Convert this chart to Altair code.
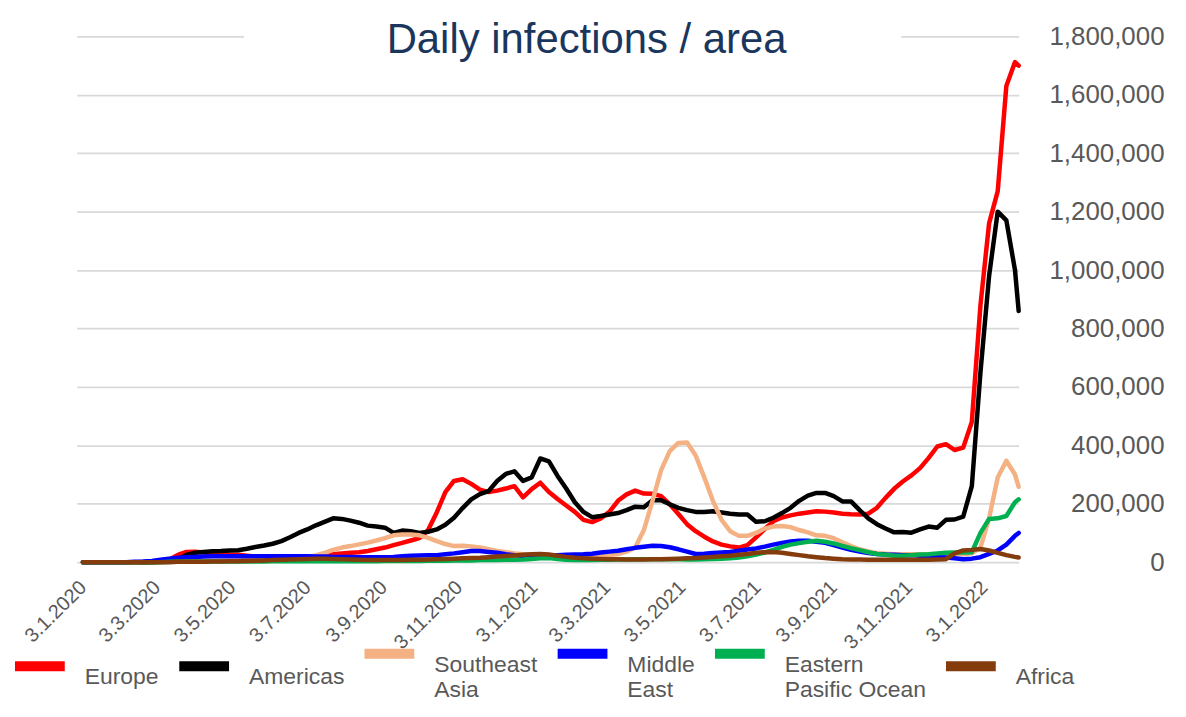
import altair as alt
import pandas as pd

# weekly dates from 3.1.2020, plus the last day shown
dates = list(pd.date_range("2020-01-03", periods=109, freq="7D").strftime("%Y-%m-%dT00:00:00")) + ["2022-01-31T00:00:00"]

series_names = ["Europe", "Americas", "Southeast Asia", "Middle East", "Eastern Pasific Ocean", "Africa"]
series_colors = ["#FF0000", "#000000", "#F4B183", "#0000FF", "#00B050", "#843C0C"]

# daily infections, thousands
europe = [0,0,0,0,0,0,0,0,1,3,
          8,25,35,36,33,30,28,26,25,22,
          19,16,15,15,15,15,16,18,22,27,
          30,32,34,38,44,50,58,66,74,82,
          110,170,240,278,284,268,248,240,245,252,
          260,222,250,272,240,216,194,172,145,137,
          150,172,210,232,245,235,234,226,198,165,
          130,106,87,71,60,54,50,58,85,113,
          140,153,160,166,170,174,173,170,166,164,
          163,166,186,220,251,276,297,322,357,396,
          404,384,392,480,880,1160,1270,1630,1712,1700]
americas = [0,0,0,0,0,0,0,0,0,1,
            2,8,25,32,35,37,38,40,41,46,
            52,57,63,72,85,100,112,126,138,150,
            148,142,135,125,122,118,100,108,106,100,
            104,112,128,152,185,215,233,243,278,302,
            311,278,290,355,345,295,252,205,172,154,
            158,163,168,178,190,188,212,212,198,186,
            178,172,172,174,170,166,163,163,138,140,
            152,168,186,210,228,237,237,226,208,208,
            178,150,130,115,102,103,101,112,122,118,
            145,146,156,260,650,980,1200,1170,1000,860]
southeast_asia = [0,0,0,0,0,0,0,1,1,2,
                  2,3,3,3,4,4,5,5,6,7,
                  8,9,10,11,13,16,19,23,32,42,
                  50,55,61,67,74,82,92,95,95,92,
                  83,72,62,55,56,54,50,44,38,34,
                  30,27,25,23,22,21,20,19,18,18,
                  20,24,28,36,50,110,210,315,380,408,
                  410,365,290,210,145,106,90,90,100,115,
                  122,124,120,110,102,92,90,82,68,55,
                  44,37,31,29,27,27,27,27,27,27,
                  27,27,27,30,50,150,290,347,300,258]
middle_east = [0,0,0,0,0,0,1,2,4,8,
               12,15,17,18,19,20,20,20,20,20,
               20,20,20,20,20,20,20,19,19,18,
               18,18,17,17,17,17,18,20,22,23,
               24,24,27,30,34,38,38,35,32,27,
               24,21,21,22,23,24,25,26,27,29,
               33,36,39,44,49,53,56,55,51,44,
               36,28,29,31,33,35,39,43,47,53,
               60,66,71,73,73,70,66,58,50,42,
               36,31,28,26,25,24,24,22,20,18,
               16,13,10,12,17,28,40,60,90,100]
eastern_pacific = [0,0,0,0,0,0,0,0,0,0,
                   1,2,2,2,2,2,2,2,2,2,
                   2,2,3,3,3,3,3,3,3,3,
                   3,3,3,3,3,4,4,4,4,4,
                   5,5,5,6,6,6,7,7,7,8,
                   8,9,11,13,14,11,8,7,7,7,
                   8,8,9,9,10,10,10,10,10,10,
                   9,9,10,11,12,13,16,20,26,33,
                   42,52,60,65,70,73,70,64,56,48,
                   41,34,28,25,22,22,24,26,27,30,
                   32,33,33,34,100,148,150,158,205,215]
africa = [0,0,0,0,0,0,0,0,0,0,
          0,1,1,1,1,2,2,3,3,4,
          5,6,7,8,9,10,11,12,12,11,
          10,9,8,7,7,7,7,7,8,8,
          9,10,11,12,13,14,15,17,19,21,
          23,25,27,28,26,22,18,15,13,12,
          11,10,10,9,9,9,10,10,11,12,
          13,14,16,18,20,22,25,28,32,34,
          35,32,28,24,20,17,14,12,10,9,
          9,8,8,8,8,8,8,8,8,9,
          10,30,40,42,45,40,32,24,18,16]

y_ticks = [0, 200000, 400000, 600000, 800000, 1000000, 1200000, 1400000, 1600000, 1800000]
x_ticks = [(2020, 1), (2020, 3), (2020, 5), (2020, 7), (2020, 9), (2020, 11),
           (2021, 1), (2021, 3), (2021, 5), (2021, 7), (2021, 9), (2021, 11), (2022, 1)]
title_text = "Daily infections / area"

all_series = [europe, americas, southeast_asia, middle_east, eastern_pacific, africa]
rows = []
for name, vals in zip(series_names, all_series):
    for d, v in zip(dates, vals):
        rows.append({"date": d, "region": name, "cases": v * 1000})
df = pd.DataFrame(rows)

label_expr = ("datum.label == 'Southeast Asia' ? ['Southeast', 'Asia'] : "
              "datum.label == 'Middle East' ? ['Middle', 'East'] : "
              "datum.label == 'Eastern Pasific Ocean' ? ['Eastern', 'Pasific Ocean'] : datum.label")

lines = alt.Chart(df).mark_line(strokeWidth=4.5, strokeJoin="round", strokeCap="round").encode(
    x=alt.X("date:T",
            scale=alt.Scale(domain=[alt.DateTime(year=2019, month=12, date=29),
                                    alt.DateTime(year=2022, month=1, date=31)]),
            axis=alt.Axis(values=[alt.DateTime(year=y, month=m, date=3) for y, m in x_ticks],
                          format="%-d.%-m.%Y", labelAngle=-45, labelAlign="right",
                          labelBaseline="middle", labelFontSize=20, labelFont="Liberation Sans",
                          labelColor="#595959", labelPadding=22, domain=False, ticks=False,
                          tickSize=0, grid=False, title=None, labelOverlap=False, labelFlush=False)),
    y=alt.Y("cases:Q",
            scale=alt.Scale(domain=[0, 1800000], nice=False),
            axis=alt.Axis(orient="right", values=y_ticks, format=",d", labelFontSize=26,
                          labelFont="Liberation Sans", labelColor="#595959", labelAlign="right",
                          labelPadding=146, domain=False, ticks=False, tickSize=0,
                          gridColor="#D9D9D9", gridWidth=1.8, title=None)),
    color=alt.Color("region:N",
                    scale=alt.Scale(domain=series_names, range=series_colors),
                    legend=alt.Legend(orient="none", legendX=-67, legendY=590, direction="horizontal",
                                      columns=6, symbolType="stroke", symbolStrokeWidth=10,
                                      symbolSize=2500, labelFontSize=23, labelFont="Liberation Sans",
                                      labelColor="#595959", labelBaseline="top", labelOffset=15,
                                      columnPadding=0, labelLimit=400, title=None, padding=0,
                                      labelExpr=label_expr)),
    detail="region:N",
)

title_df = pd.DataFrame({"t": [title_text]})
title_bg = alt.Chart(title_df).mark_rect(color="white").encode(
    x=alt.value(168), x2=alt.value(828), y=alt.value(-10), y2=alt.value(12))
title = alt.Chart(title_df).mark_text(font="Liberation Sans", fontSize=42, color="#1B365D",
                                      align="center", baseline="alphabetic").encode(
    text="t:N", x=alt.value(512), y=alt.value(17))

chart = alt.layer(title_bg, lines, title).properties(
    width=946, height=528,
    autosize=alt.AutoSizeParams(type="none"),
    padding={"left": 69, "top": 27, "right": 160, "bottom": 154},
    background="white",
).configure_view(stroke=None)

chart.save("out.html", embed_options={"renderer": "svg", "actions": False})
